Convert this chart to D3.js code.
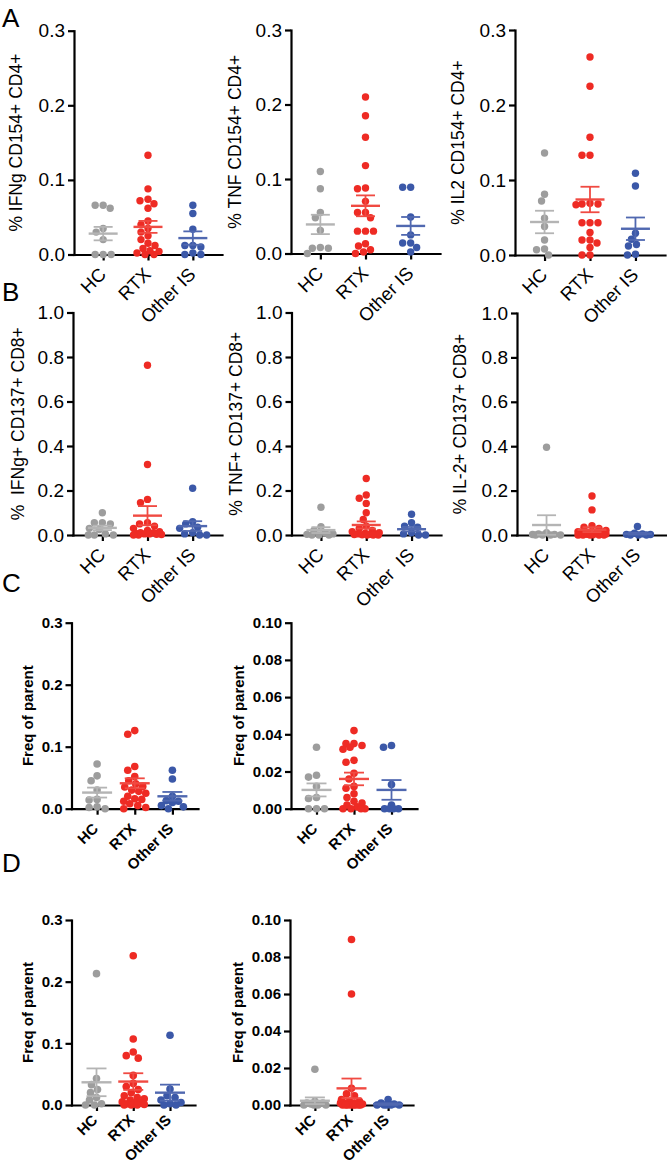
<!DOCTYPE html>
<html><head><meta charset="utf-8">
<script src="https://cdn.jsdelivr.net/npm/d3@7"></script>
<style>body{margin:0;background:#fff} svg{display:block}</style>
</head><body><svg id="c" width="667" height="1166"></svg>
<script>
// ---------- categories / labels ----------
const groups = ["HC", "RTX", "Other IS"];
const labelsB2 = ["HC", "RTX", "Other  IS"];
const pointColors = ["#9d9d9d", "#ee2b24", "#3b58a8"];
const lineColors = ["#b4b4b4", "#f04a42", "#5068b0"];

// ---------- tick values ----------
const ticks03 = [0, 0.1, 0.2, 0.3];
const ticks10 = [0, 0.2, 0.4, 0.6, 0.8, 1.0];
const ticks010 = [0, 0.02, 0.04, 0.06, 0.08, 0.10];

// ---------- A: CD154+ CD4+ ----------
const a1HC = [0.066, 0.062, 0.066, 0.035, 0.03, 0.02, 0.0, 0.0, 0.0];
const a1RTX = [0.133, 0.088, 0.074, 0.072, 0.068, 0.062, 0.045, 0.04, 0.035, 0.03, 0.025, 0.02, 0.015, 0.012, 0.008, 0.005, 0.004, 0.002, 0.0, 0.0];
const a1Other = [0.066, 0.055, 0.034, 0.012, 0.012, 0.01, 0.002, 0.0, 0.0];
const a1Mean = [0.028, 0.037, 0.022];
const a1Sem = [0.009, 0.008, 0.009];

const a2HC = [0.11, 0.087, 0.055, 0.048, 0.031, 0.008, 0.007, 0.007, 0.0];
const a2RTX = [0.21, 0.185, 0.156, 0.118, 0.088, 0.087, 0.07, 0.055, 0.055, 0.048, 0.03, 0.03, 0.03, 0.013, 0.01, 0.005, 0.002, 0.0];
const a2Other = [0.089, 0.089, 0.049, 0.025, 0.014, 0.014, 0.008, 0.002];
const a2Mean = [0.039, 0.064, 0.037];
const a2Sem = [0.013, 0.014, 0.012];

const a3HC = [0.136, 0.081, 0.072, 0.049, 0.038, 0.02, 0.008, 0.007, 0.0];
const a3RTX = [0.264, 0.225, 0.157, 0.133, 0.133, 0.069, 0.068, 0.068, 0.067, 0.043, 0.043, 0.043, 0.03, 0.02, 0.02, 0.016, 0.01, 0.0, 0.0];
const a3Other = [0.109, 0.092, 0.029, 0.021, 0.014, 0.012, 0.001, 0.0];
const a3Mean = [0.044, 0.074, 0.035];
const a3Sem = [0.015, 0.017, 0.015];

// ---------- B: CD137+ CD8+ ----------
const b1HC = [0.10, 0.055, 0.05, 0.055, 0.03, 0.025, 0.005, 0.0, 0.0, 0.0];
const b1RTX = [0.763, 0.317, 0.16, 0.145, 0.055, 0.05, 0.04, 0.03, 0.02, 0.015, 0.01, 0.01, 0.008, 0.005, 0.005, 0.003, 0.002, 0.0, 0.0];
const b1Other = [0.21, 0.06, 0.05, 0.035, 0.03, 0.01, 0.005, 0.0, 0.0];
const b1Mean = [0.032, 0.087, 0.040];
const b1Sem = [0.010, 0.043, 0.022];

const b2HC = [0.125, 0.037, 0.02, 0.01, 0.005, 0.003, 0.0, 0.0, 0.0];
const b2RTX = [0.254, 0.18, 0.165, 0.142, 0.10, 0.07, 0.04, 0.03, 0.02, 0.015, 0.01, 0.008, 0.005, 0.004, 0.003, 0.002, 0.001, 0.0, 0.0, 0.0];
const b2Other = [0.093, 0.055, 0.04, 0.035, 0.01, 0.005, 0.0, 0.0];
const b2Mean = [0.022, 0.045, 0.026];
const b2Sem = [0.013, 0.016, 0.010];

const b3HC = [0.395, 0.01, 0.005, 0.003, 0.002, 0.0, 0.0, 0.0, 0.0];
const b3RTX = [0.176, 0.113, 0.042, 0.035, 0.03, 0.02, 0.015, 0.01, 0.01, 0.008, 0.005, 0.005, 0.003, 0.002, 0.001, 0.0, 0.0, 0.0, 0.0, 0.0];
const b3Other = [0.038, 0.008, 0.005, 0.003, 0.002, 0.0, 0.0, 0.0];
const b3Mean = [0.045, 0.024, 0.006];
const b3Sem = [0.044, 0.011, 0.004];

// ---------- C ----------
const c1HC = [0.072, 0.053, 0.045, 0.03, 0.015, 0.014, 0.003, 0.002, 0.0];
const c1RTX = [0.126, 0.12, 0.068, 0.062, 0.052, 0.045, 0.04, 0.036, 0.035, 0.03, 0.028, 0.025, 0.02, 0.016, 0.015, 0.012, 0.008, 0.005, 0.002, 0.0];
const c1Other = [0.062, 0.048, 0.02, 0.013, 0.012, 0.01, 0.005, 0.003, 0.0];
const c1Mean = [0.026, 0.041, 0.020];
const c1Sem = [0.008, 0.008, 0.007];

const c2HC = [0.033, 0.018, 0.017, 0.012, 0.006, 0.0055, 0.0, 0.0, 0.0];
const c2RTX = [0.042, 0.035, 0.035, 0.034, 0.033, 0.032, 0.026, 0.025, 0.019, 0.016, 0.012, 0.011, 0.008, 0.006, 0.004, 0.003, 0.002, 0.001, 0.0, 0.0, 0.0, 0.0];
const c2Other = [0.034, 0.033, 0.013, 0.002, 0.0, 0.0, 0.0, 0.0];
const c2Mean = [0.0101, 0.016, 0.0101];
const c2Sem = [0.0035, 0.0034, 0.0053];

// ---------- D ----------
const d1HC = [0.213, 0.043, 0.033, 0.025, 0.02, 0.012, 0.008, 0.002, 0.0, 0.0];
const d1RTX = [0.242, 0.107, 0.086, 0.08, 0.076, 0.048, 0.035, 0.03, 0.025, 0.02, 0.015, 0.012, 0.01, 0.008, 0.005, 0.004, 0.003, 0.002, 0.001, 0.0, 0.0, 0.0];
const d1Other = [0.113, 0.026, 0.015, 0.012, 0.008, 0.004, 0.002, 0.0, 0.0];
const d1Mean = [0.0368, 0.038, 0.020];
const d1Sem = [0.0225, 0.0135, 0.013];

const d2HC = [0.0193, 0.002, 0.001, 0.001, 0.0005, 0.0, 0.0, 0.0, 0.0];
const d2RTX = [0.0895, 0.06, 0.009, 0.006, 0.005, 0.003, 0.002, 0.002, 0.001, 0.001, 0.001, 0.0005, 0, 0, 0, 0, 0, 0, 0, 0];
const d2Other = [0.003, 0.001, 0.0005, 0, 0, 0, 0, 0];
const d2Mean = [0.0023, 0.009, 0.0005];
const d2Sem = [0.0018, 0.0053, 0.0004];

// ---------- drawing ----------
const svg = d3.select("#c");
const FONT = "'Liberation Sans', Arial, Helvetica, sans-serif";

function swarm(vals, cx, y, r, maxW) {
  const pts = vals.map(v => ({ v, py: y(v) })).sort((a, b) => a.py - b.py);
  const placed = [];
  const D = 2 * r * 0.97;
  pts.forEach(p => {
    let found = null, best = null, bestScore = -Infinity;
    for (let k = 0; k <= 2 * maxW; k++) {
      const off = k === 0 ? 0 : (k % 2 ? -(k + 1) / 2 : k / 2);
      let md = Infinity;
      placed.forEach(q => {
        const d = Math.hypot(q.px - (cx + off), q.py - p.py);
        if (d < md) md = d;
      });
      if (md >= D) { found = off; break; }
      if (md > bestScore) { bestScore = md; best = off; }
    }
    p.px = cx + (found !== null ? found : best);
    placed.push(p);
  });
  return placed;
}

function panel(cfg) {
  const g = svg.append("g");
  const y = d3.scaleLinear().domain([0, cfg.max]).range([cfg.yb, cfg.yt]);
  const x = d3.scalePoint().domain(groups).range([cfg.x0, cfg.x1]).padding(cfg.pad);

  const ya = g.append("g").attr("transform", `translate(${cfg.x0},0)`)
    .call(d3.axisLeft(y).tickValues(cfg.ticks).tickFormat(d3.format(cfg.fmt)).tickSize(6).tickSizeOuter(0).tickPadding(3));
  const xa = g.append("g").attr("transform", `translate(0,${cfg.yb})`)
    .call(d3.axisBottom(x).tickSize(6).tickSizeOuter(0).tickFormat(""));
  [ya, xa].forEach(a => {
    a.select(".domain").attr("stroke", "#000").attr("stroke-width", 2.2).attr("stroke-linecap", "square");
    a.selectAll(".tick line").attr("stroke", "#000").attr("stroke-width", 2.2);
  });
  ya.selectAll(".tick text").attr("font-family", FONT).attr("font-size", cfg.fs)
    .attr("font-weight", cfg.bold ? "bold" : "normal").attr("fill", "#000");

  const labs = cfg.labels || groups;
  groups.forEach((gname, i) => {
    g.append("text")
      .attr("transform", `translate(${x(gname) + cfg.lx},${cfg.yb + cfg.ly}) rotate(-45)`)
      .attr("text-anchor", "end")
      .attr("font-family", FONT).attr("font-size", cfg.xfs)
      .attr("font-weight", cfg.bold ? "bold" : "normal")
      .style("white-space", "pre")
      .text(labs[i]);
  });

  g.append("text")
    .attr("transform", `translate(${cfg.tx},${(cfg.yt + cfg.yb) / 2}) rotate(-90)`)
    .attr("text-anchor", "middle")
    .attr("font-family", FONT).attr("font-size", cfg.tfs)
    .attr("font-weight", cfg.bold ? "bold" : "normal")
    .style("white-space", "pre")
    .text(cfg.title);

  cfg.data.forEach((vals, i) => {
    const pts = swarm(vals, x(groups[i]), y, cfg.r, cfg.maxW);
    g.append("g").selectAll("circle").data(pts).join("circle")
      .attr("cx", d => d.px).attr("cy", d => d.py).attr("r", cfg.r)
      .attr("fill", pointColors[i]);
  });

  groups.forEach((gname, i) => {
    const cx = x(gname), m = cfg.mean[i], s = cfg.sem[i];
    const lg = g.append("g").attr("stroke", lineColors[i]).attr("fill", "none");
    lg.append("line").attr("x1", cx - cfg.mw).attr("x2", cx + cfg.mw)
      .attr("y1", y(m)).attr("y2", y(m)).attr("stroke-width", 2.4);
    lg.append("line").attr("x1", cx).attr("x2", cx)
      .attr("y1", y(Math.max(0, m - s))).attr("y2", y(m + s)).attr("stroke-width", 1.8);
    [m + s, m - s].forEach(v => {
      if (v < 0) return;
      lg.append("line").attr("x1", cx - cfg.cw).attr("x2", cx + cfg.cw)
        .attr("y1", y(v)).attr("y2", y(v)).attr("stroke-width", 1.8);
    });
  });
}

const rowAB = { pad: 0.65, fs: 19, xfs: 18.5, tfs: 17.5, bold: false, r: 3.7, maxW: 14, mw: 14.5, cw: 9.5, lx: 4, ly: 21 };
const rowC = { pad: 0.68, fs: 15, xfs: 15, tfs: 15, bold: true, r: 3.8, maxW: 11, mw: 15, cw: 10, lx: 2, ly: 21 };
const rowD = { ...rowC, ly: 16 };

panel({ ...rowAB, x0: 74, x1: 222, yt: 30.7, yb: 254.5, max: 0.3, ticks: ticks03, fmt: ".1f", tx: 22,
  title: "% IFNg CD154+ CD4+", data: [a1HC, a1RTX, a1Other], mean: a1Mean, sem: a1Sem });
panel({ ...rowAB, x0: 291, x1: 440, yt: 30, yb: 253.5, max: 0.3, ticks: ticks03, fmt: ".1f", tx: 241,
  title: "% TNF CD154+ CD4+", data: [a2HC, a2RTX, a2Other], mean: a2Mean, sem: a2Sem });
panel({ ...rowAB, x0: 515, x1: 665, yt: 30, yb: 255, max: 0.3, ticks: ticks03, fmt: ".1f", tx: 464,
  title: "% IL2 CD154+ CD4+", data: [a3HC, a3RTX, a3Other], mean: a3Mean, sem: a3Sem });

panel({ ...rowAB, x0: 73, x1: 222, yt: 312.5, yb: 535, max: 1.0, ticks: ticks10, fmt: ".1f", tx: 24,
  title: "%  IFNg+ CD137+ CD8+", data: [b1HC, b1RTX, b1Other], mean: b1Mean, sem: b1Sem });
panel({ ...rowAB, x0: 291.5, x1: 441, yt: 312.5, yb: 535, max: 1.0, ticks: ticks10, fmt: ".1f", tx: 242,
  title: "% TNF+ CD137+ CD8+", labels: labelsB2, data: [b2HC, b2RTX, b2Other], mean: b2Mean, sem: b2Sem });
panel({ ...rowAB, x0: 517, x1: 667, yt: 313, yb: 535, max: 1.0, ticks: ticks10, fmt: ".1f", tx: 466,
  title: "% IL-2+ CD137+ CD8+", data: [b3HC, b3RTX, b3Other], mean: b3Mean, sem: b3Sem });

panel({ ...rowC, x0: 71.5, x1: 198, yt: 622.7, yb: 808.7, max: 0.3, ticks: ticks03, fmt: ".1f", tx: 33,
  title: "Freq of parent", data: [c1HC, c1RTX, c1Other], mean: c1Mean, sem: c1Sem });
panel({ ...rowC, x0: 291, x1: 417, yt: 622.7, yb: 808.7, max: 0.10, ticks: ticks010, fmt: ".2f", tx: 244,
  title: "Freq of parent", data: [c2HC, c2RTX, c2Other], mean: c2Mean, sem: c2Sem });

panel({ ...rowD, x0: 71.5, x1: 195, yt: 920, yb: 1105, max: 0.3, ticks: ticks03, fmt: ".1f", tx: 33,
  title: "Freq of parent", data: [d1HC, d1RTX, d1Other], mean: d1Mean, sem: d1Sem });
panel({ ...rowD, x0: 290, x1: 413, yt: 920, yb: 1105, max: 0.10, ticks: ticks010, fmt: ".2f", tx: 243,
  title: "Freq of parent", data: [d2HC, d2RTX, d2Other], mean: d2Mean, sem: d2Sem });

const letters = ["A", "B", "C", "D"];
const letterY = [27, 301, 592, 872];
svg.selectAll("text.letter").data(letters).join("text").attr("class", "letter")
  .attr("x", 2).attr("y", (d, i) => letterY[i])
  .attr("font-family", FONT).attr("font-size", 26).text(d => d);
</script>
</body></html>
